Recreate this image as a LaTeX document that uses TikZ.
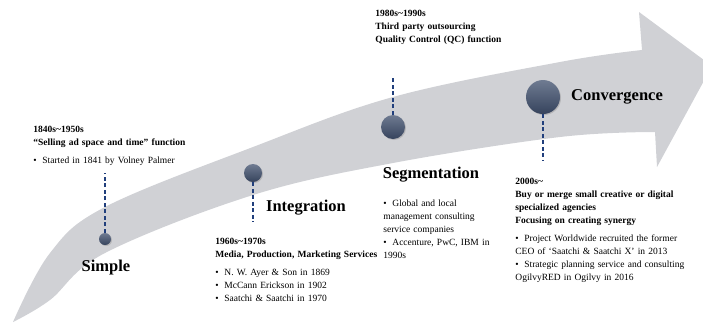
\documentclass[tikz,border=0pt]{standalone}
\usepackage{fontspec}
\setmainfont{Liberation Serif}
\usepackage[dvipsnames]{xcolor}
\usetikzlibrary{shadows}
\definecolor{band}{HTML}{D0D1D5}
\definecolor{dotblue}{HTML}{3F4F6D}
\definecolor{dashblue}{HTML}{213F7C}
\newcommand{\itm}[1]{\par\hangindent=9pt\hangafter=1\noindent\makebox[9pt][l]{\textbullet}#1}

\begin{document}
\begin{tikzpicture}[x=1pt,y=-1pt,thick,
  dot node/.style={circle,inner sep=0pt,top color=dotblue!75!white,bottom color=dotblue!85!black,drop shadow={opacity=0.35,shadow xshift=1pt,shadow yshift=-1pt}},
  title node/.style={font=\fontsize{16.5}{18}\selectfont\bfseries,inner sep=0pt},
  text node/.style={anchor=north west,inner sep=0pt,align=left,text width=200pt,font=\fontsize{9.5}{13}\selectfont},
  dline/.style={dashblue,line width=1.8pt,dash pattern=on 4pt off 2.5pt}]

  \useasboundingbox (0,0) rectangle (703,322);

  % the arrow
  \fill[band] plot[smooth,tension=0.6] coordinates {(13,322) (50,253) (105,207) (253,147) (393,97) (560,62) (642,50)}
      -- (639,12) -- (712,66) -- (657,167)
      -- plot[smooth,tension=0.6] coordinates {(655,132) (560,137) (393,163) (253,195) (105,253) (50,300) (13,322)} -- cycle;

  \node[dot node, minimum size=12pt] (1) at (105,239) {};
  \node[dot node, minimum size=18pt] (2) at (253,173) {};
  \node[dot node, minimum size=24pt] (3) at (393,127) {};
  \node[dot node, minimum size=34pt] (4) at (543,97) {};

  \node[title node] (5) at (106,268) {Simple};
  \node[title node] (6) at (306,208) {Integration};
  \node[title node] (7) at (431,175) {Segmentation};
  \node[title node] (8) at (617,97) {Convergence};

  \node[text node] (9) at (33,126) {{\bfseries 1840s\textasciitilde1950s\par
      ``Selling ad space and time'' function\par}\vspace{5pt}
    \itm{Started in 1841 by Volney Palmer}};
  \node[text node] (10) at (215,238) {{\bfseries 1960s\textasciitilde1970s\par
      Media, Production, Marketing Services\par}\vspace{5pt}
    \itm{N. W. Ayer \& Son in 1869}
    \itm{McCann Erickson in 1902}
    \itm{Saatchi \& Saatchi in 1970}};
  \node[text node] (11) at (375,10) {{\bfseries 1980s\textasciitilde1990s\par
      Third party outsourcing\par
      Quality Control (QC) function\par}};
  \node[text node] (12) at (383,193) {\itm{Global and local\\ management consulting\\ service companies}
    \itm{Accenture, PwC, IBM in\\ 1990s}};
  \node[text node] (13) at (515,178) {{\bfseries 2000s\textasciitilde\par
      Buy or merge small creative or digital\par
      specialized agencies\par
      Focusing on creating synergy\par}\vspace{5pt}
    \itm{Project Worldwide recruited the former\\ CEO of `Saatchi \& Saatchi X' in 2013}
    \itm{Strategic planning service and consulting\\ OgilvyRED in Ogilvy in 2016}};

  \coordinate (a1) at (105,173);
  \coordinate (a2) at (253,222);
  \coordinate (a3) at (393,77);
  \coordinate (a4) at (543,160);

  \draw[dline] (1) to (a1);
  \draw[dline] (2) to (a2);
  \draw[dline] (3) to (a3);
  \draw[dline] (4) to (a4);
\end{tikzpicture}
\end{document}
